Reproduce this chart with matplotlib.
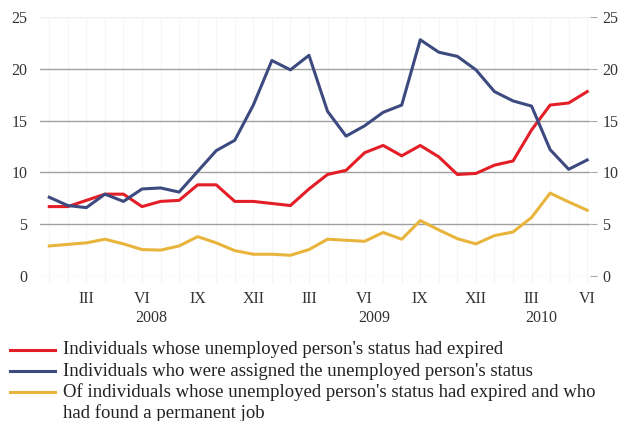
import matplotlib
matplotlib.use("Agg")
from matplotlib import pyplot as plt
from matplotlib.lines import Line2D
from matplotlib.transforms import blended_transform_factory

plt.rcParams['font.family'] = ['Liberation Serif', 'DejaVu Serif']

# monthly data, January 2008 - June 2010
months = list(range(30))
expired = [6.7, 6.7, 7.3, 7.9, 7.9, 6.7, 7.2, 7.3, 8.8, 8.8,
           7.2, 7.2, 7.0, 6.8, 8.4, 9.8, 10.2, 11.9, 12.6, 11.6,
           12.6, 11.5, 9.8, 9.9, 10.7, 11.1, 14.1, 16.5, 16.7, 17.8]
assigned = [7.6, 6.8, 6.6, 7.9, 7.2, 8.4, 8.5, 8.1, 10.1, 12.1,
            13.1, 16.5, 20.8, 19.9, 21.3, 15.9, 13.5, 14.5, 15.8, 16.5,
            22.8, 21.6, 21.2, 19.9, 17.8, 16.9, 16.4, 12.2, 10.3, 11.2]
perm_job = [2.9, 3.05, 3.2, 3.55, 3.1, 2.55, 2.5, 2.9, 3.8, 3.2,
            2.45, 2.1, 2.1, 2.0, 2.55, 3.55, 3.45, 3.35, 4.2, 3.55,
            5.35, 4.45, 3.6, 3.1, 3.9, 4.25, 5.65, 8.0, 7.15, 6.35]

month_labels = ['', '', 'III', '', '', 'VI', '', '', 'IX', '', '', 'XII'] * 2 + \
               ['', '', 'III', '', '', 'VI']
years = ['2008', '2009', '2010']
year_pos = [5.5, 17.5, 26.5]

series_labels = ["Individuals whose unemployed person's status had expired",
                 "Individuals who were assigned the unemployed person's status",
                 "Of individuals whose unemployed person's status had expired and who",
                 "had found a permanent job"]
colors = ['#e31e26', '#3c4a80', '#e8b43c']

fig = plt.figure(figsize=(6.24, 4.21), dpi=100)
ax = fig.add_axes([40 / 624, 1 - 276 / 421, 550 / 624, 259 / 421])

ax.plot(months, expired, color=colors[0], lw=2.2, zorder=3)
ax.plot(months, assigned, color=colors[1], lw=2.2, zorder=3)
ax.plot(months, perm_job, color=colors[2], lw=2.2, zorder=3)

ax.set_xlim(-0.5, 29.15)
ax.set_ylim(0, 25)
ax.set_yticks([0, 5, 10, 15, 20, 25])
ax.set_xticks(months)
ax.set_xticklabels(month_labels)

for s in ax.spines.values():
    s.set_visible(False)

ax.grid(axis='y', color='#a0a0a0', lw=1.0, zorder=1)
ax.grid(axis='x', color='#f6f6f6', lw=0.8, zorder=0)
ygl = ax.get_ygridlines()
ygl[0].set_color('#efefef')
ygl[-1].set_color('#efefef')

ax.tick_params(axis='x', length=5, color='#f4f4f4', pad=6, labelsize=11.5, labelcolor='#333333')
ax.tick_params(axis='y', which='both', left=False, right=True, labelleft=True, labelright=True,
               length=5, color='#aaaaaa', pad=4, labelsize=11.5, labelcolor='#333333')

trans = blended_transform_factory(ax.transData, ax.transAxes)
for yr, xp in zip(years, year_pos):
    ax.text(xp, -0.163, yr, transform=trans, ha='center', va='center', fontsize=11.5, color='#333333')

# legend drawn by hand
line_y = [350, 371, 392]
for y, c in zip(line_y, colors):
    fig.add_artist(Line2D([10 / 624, 55 / 624], [1 - y / 421, 1 - y / 421], color=c, lw=2.2,
                          transform=fig.transFigure))
for i, lab in enumerate(series_labels):
    y = 350 + 21 * i
    fig.text(63 / 624, 1 - y / 421, lab, ha='left', va='center', fontsize=13.5, color='#222222')

fig.savefig('out.png', dpi=100)
